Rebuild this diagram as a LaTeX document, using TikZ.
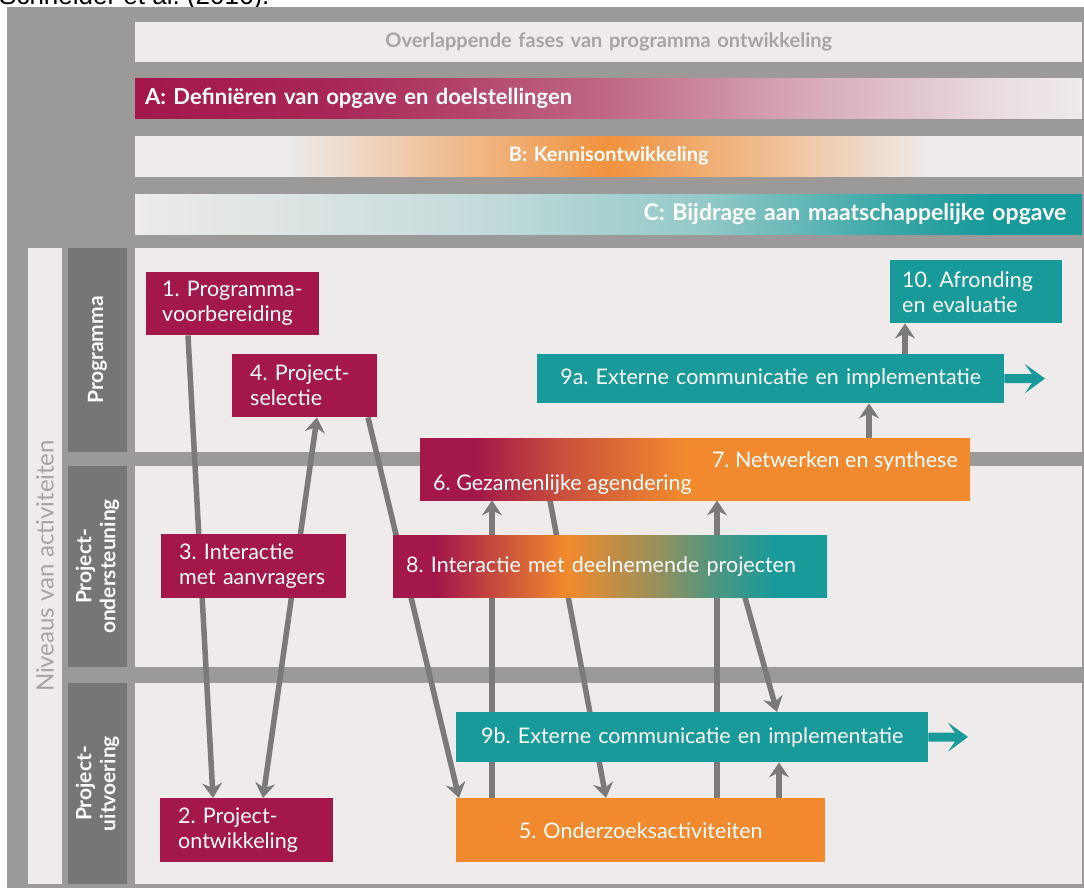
\documentclass[tikz,border=0pt]{standalone}
\usepackage{fontspec}
\setmainfont{Lato}
\newfontfamily\capfont{Liberation Sans}
\usetikzlibrary{arrows.meta}
\frenchspacing
\definecolor{crim}{HTML}{A3174A}
\definecolor{orng}{HTML}{F18A2E}
\definecolor{tealc}{HTML}{189A9B}
\definecolor{paper}{HTML}{EEEBEA}
\definecolor{frame}{HTML}{9C9999}
\definecolor{lvlgray}{HTML}{777575}
\definecolor{linkgray}{HTML}{7B7979}
\definecolor{faint}{HTML}{A6A3A3}
\pgfdeclarelayer{back}
\pgfdeclarelayer{links}
\pgfsetlayers{back,links,main}
\pgfdeclarehorizontalshading{phaseA}{100bp}{color(0bp)=(crim); color(25bp)=(crim); color(36bp)=(crim!92!paper);
  color(50bp)=(crim!62!paper); color(60bp)=(crim!32!paper); color(71bp)=(crim!6!paper); color(75bp)=(paper); color(100bp)=(paper)}
\pgfdeclarehorizontalshading{phaseB}{100bp}{color(0bp)=(paper); color(25bp)=(paper); color(33bp)=(paper);
  color(50bp)=(orng!92!paper); color(67bp)=(paper); color(75bp)=(paper); color(100bp)=(paper)}
\pgfdeclarehorizontalshading{phaseC}{100bp}{color(0bp)=(paper); color(25bp)=(paper); color(42bp)=(tealc!18!paper);
  color(55bp)=(tealc!42!paper); color(65bp)=(tealc!85!paper); color(70bp)=(tealc); color(75bp)=(tealc); color(100bp)=(tealc)}
\pgfdeclarehorizontalshading{agenda}{100bp}{color(0bp)=(crim); color(25bp)=(crim); color(30bp)=(crim);
  color(38bp)=(crim!50!orng); color(49bp)=(orng); color(75bp)=(orng); color(100bp)=(orng)}
\pgfdeclarehorizontalshading{interact}{100bp}{color(0bp)=(crim); color(25bp)=(crim); color(30bp)=(crim);
  color(45bp)=(orng); color(55bp)=(orng!60!tealc); color(62bp)=(orng!25!tealc); color(69bp)=(tealc); color(75bp)=(tealc); color(100bp)=(tealc)}
\tikzset{
  phase/.style={anchor=north west, inner xsep=10pt, inner ysep=0pt, minimum height=40pt, text width=927pt,
    font=\bfseries\fontsize{22}{24}\selectfont, text=white},
  level/.style={rotate=90, fill=lvlgray, text=white, minimum height=59pt, inner sep=0pt, align=center,
    font=\bfseries\fontsize{21}{24}\selectfont},
  box/.style={anchor=north west, fill=#1, text=white, inner xsep=18pt, inner ysep=0pt,
    font=\fontsize{21.5}{25}\selectfont},
  link/.style={draw=linkgray, line width=5.5pt, -{Stealth[length=15pt,width=20pt,inset=5pt]}},
  outlink/.style={draw=tealc, line width=9pt, -{Stealth[length=20pt,width=29pt,inset=10pt]}}
}
\begin{document}
\begin{tikzpicture}[x=1pt,y=-1pt]
\useasboundingbox (0,0) rectangle (1084,888);
\begin{pgfonlayer}{back}
  \fill[white] (0,0) rectangle (1084,888);
  \node[anchor=base west, inner sep=0pt, font=\capfont\fontsize{26}{26}\selectfont] (cite) at (-1,4.5) {Schneider et al. (2016).};
  \fill[frame] (7,7) rectangle (1084,888);
  \fill[paper] (135,248) rectangle (1082,452);
  \fill[paper] (135,466) rectangle (1082,667);
  \fill[paper] (135,683) rectangle (1082,884);
\end{pgfonlayer}

\node[phase, fill=paper, align=center, text=faint, font=\bfseries\fontsize{20}{24}\selectfont] (ph0) at (135,22) {Overlappende fases van programma ontwikkeling};
\node[phase, shade, shading=phaseA, align=left] (phA) at (135,78) {A: Definiëren van opgave en doelstellingen};
\node[phase, shade, shading=phaseB, align=center, font=\bfseries\fontsize{20}{24}\selectfont] (phB) at (135,136) {B: Kennisontwikkeling};
\node[phase, shade, shading=phaseC, align=right, inner xsep=16pt, text width=915pt, font=\bfseries\fontsize{23}{24}\selectfont] (phC) at (135,194) {C: Bijdrage aan maatschappelijke opgave};

\node[rotate=90, fill=paper, text=faint, minimum width=636pt, minimum height=34pt, inner sep=0pt,
  font=\fontsize{24}{26}\selectfont] (niv) at (45,566) {Niveaus van activiteiten};
\node[level, minimum width=204pt] (lvlA) at (97.5,350) {Programma};
\node[level, minimum width=201pt] (lvlB) at (97.5,566.5) {Project-\\ondersteuning};
\node[level, minimum width=201pt] (lvlC) at (97.5,783.5) {Project-\\uitvoering};

\node[box=crim, minimum width=173pt, minimum height=63pt, text width=141pt, align=left, inner xsep=16pt] (b1) at (146,272) {1. Programma-\\voorbereiding};
\node[box=crim, minimum width=145pt, minimum height=63pt, text width=109pt, align=left] (b4) at (232,354) {4. Project-\\selectie};
\node[box=crim, minimum width=185pt, minimum height=64pt, text width=149pt, align=left] (b3) at (161,534) {3. Interactie\\met aanvragers};
\node[box=crim, minimum width=173pt, minimum height=64pt, text width=137pt, align=left] (b2) at (160,798) {2. Project-\\ontwikkeling};
\node[box=tealc, minimum width=172pt, minimum height=63pt, text width=148pt, align=left, inner xsep=12pt] (b10) at (890,260) {10. Afronding\\en evaluatie};
\node[box=tealc, minimum width=467pt, minimum height=49pt, text width=431pt, align=center] (b9a) at (537,354) {9a. Externe communicatie en implementatie};
\node[box=crim, shade, shading=agenda, minimum width=550pt, minimum height=62pt] (b67) at (420,438) {};
\node[anchor=base east, text=white, inner sep=0pt, font=\fontsize{21.5}{25}\selectfont] (t7) at (958,467) {7. Netwerken en synthese};
\node[anchor=base west, text=white, inner sep=0pt, font=\fontsize{21.5}{25}\selectfont] (t6) at (433,490) {6. Gezamenlijke agendering};
\node[box=crim, shade, shading=interact, minimum width=431pt, minimum height=62pt, text width=408pt, align=left, inner xsep=13pt] (b8) at (393,535) {8. Interactie met deelnemende projecten};
\node[box=tealc, minimum width=472pt, minimum height=50pt, text width=436pt, align=center] (b9b) at (456,712) {9b. Externe communicatie en implementatie};
\node[box=orng, minimum width=369pt, minimum height=64pt, text width=333pt, align=center] (b5) at (456,798) {5. Onderzoeksactiviteiten};

\coordinate (out9a) at (1045,378.5);
\coordinate (out9b) at (968,737);

\begin{pgfonlayer}{links}
  \draw[link] ([xshift=42pt]b1.south west) -- ([xshift=53pt]b2.north west);
  \draw[link, {Stealth[length=15pt,width=20pt,inset=5pt]}-{Stealth[length=15pt,width=20pt,inset=5pt]}]
    ([xshift=103pt]b2.north west) -- ([xshift=85pt]b4.south west);
  \draw[link] ([xshift=136pt]b4.south west) -- ([xshift=3pt]b5.north west);
  \draw[link] ([xshift=36pt]b5.north west) -- ([xshift=72pt]b67.south west);
  \draw[link] ([xshift=130pt]b67.south west) -- ([xshift=150pt]b5.north west);
  \draw[link] ([xshift=261pt]b5.north west) -- ([xshift=297pt]b67.south west);
  \draw[link] ([xshift=352pt]b8.south west) -- ([xshift=321pt]b9b.north west);
  \draw[link] ([xshift=323pt]b5.north west) -- ([xshift=323pt]b9b.south west);
  \draw[link] ([xshift=449pt]b67.north west) -- ([xshift=332pt]b9a.south west);
  \draw[link] ([xshift=368pt]b9a.north west) -- ([xshift=15pt]b10.south west);
  \draw[outlink] (b9a.east) -- (out9a);
  \draw[outlink] (b9b.east) -- (out9b);
\end{pgfonlayer}
\end{tikzpicture}
\end{document}
